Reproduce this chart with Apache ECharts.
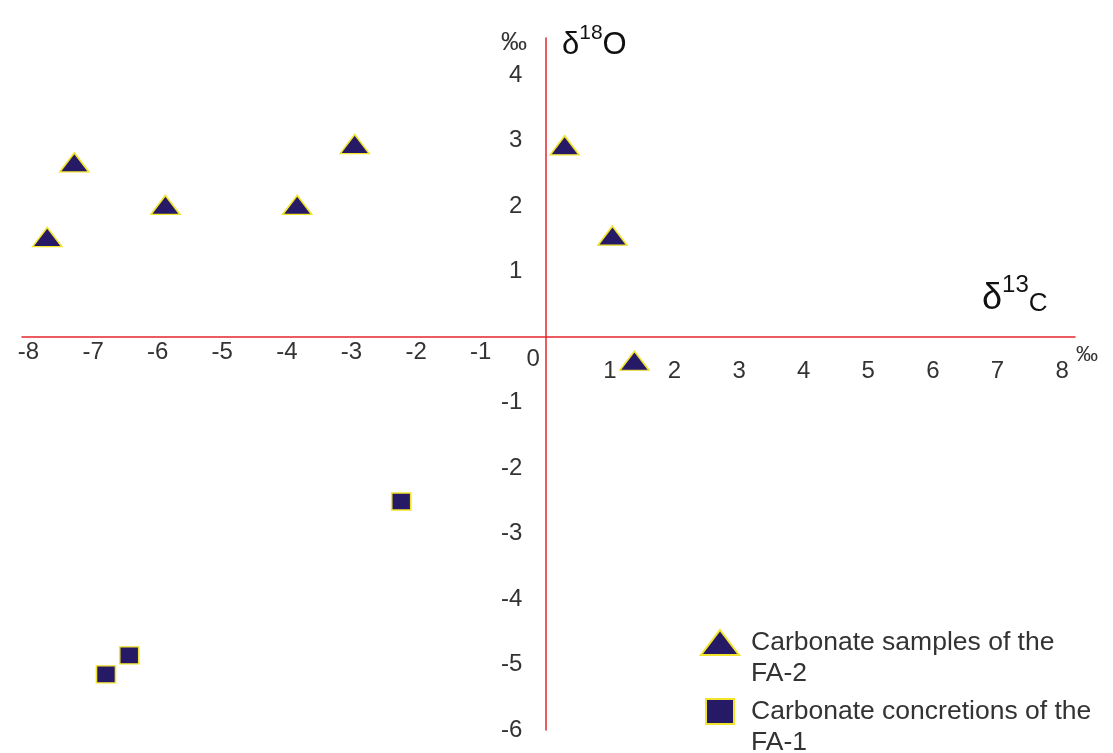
<!DOCTYPE html>
<html>
<head>
<meta charset="utf-8">
<script src="https://cdn.jsdelivr.net/npm/echarts@6/dist/echarts.min.js"></script>
<style>
  html, body { margin: 0; padding: 0; background: #fff; }
  #chart { width: 1113px; height: 753px; }
</style>
</head>
<body>
<div id="chart"></div>
<script>
// d13C / d18O values (permil)
const fa2Name = 'Carbonate samples of the FA-2'
const fa2C = [-7.71, -7.29, -5.88, -3.84, -2.95, 0.30, 1.04, 1.38]
const fa2O = [1.53, 2.67, 2.02, 2.02, 2.95, 2.93, 1.55, -0.36]

const fa1Name = 'Carbonate concretions of the FA-1'
const fa1C = [-2.23, -6.44, -6.80]
const fa1O = [-2.51, -4.86, -5.15]

const xTicks = [-8, -7, -6, -5, -4, -3, -2, -1, 0, 1, 2, 3, 4, 5, 6, 7, 8]
const yTicks = [-6, -5, -4, -3, -2, -1, 1, 2, 3, 4]

const xMin = -8.1
const xMax = 8.2
const yMin = -6
const yMax = 4.57

const red = '#e5262b'
const navy = '#261a66'
const yellow = '#f2e32b'
const ink = '#333'
const font = 'Liberation Sans, Arial, sans-serif'

const W = 1113
const H = 753
const gridBox = { left: 22, right: 38, top: 38, bottom: 23 }
const gw = W - gridBox.left - gridBox.right
const gh = H - gridBox.top - gridBox.bottom

// axes cross at the origin: move each axis in from the grid edge
const xAxisOffset = -(gh * (0 - yMin)) / (yMax - yMin)
const yAxisOffset = -(gw * (0 - xMin)) / (xMax - xMin)

const pairs = (xs, ys) => xs.map((x, i) => [x, ys[i]])

const legendText = {
  color: ink,
  fontFamily: font,
  fontSize: 26.5,
  lineHeight: 31,
  padding: [0, 0, 0, 7],
}

const chart = echarts.init(document.getElementById('chart'))

chart.setOption({
  backgroundColor: '#fff',
  animation: false,
  grid: { ...gridBox, containLabel: false, outerBoundsMode: 'none' },
  xAxis: {
    type: 'value',
    min: xMin,
    max: xMax,
    position: 'bottom',
    offset: xAxisOffset,
    splitLine: { show: false },
    axisTick: { show: false },
    axisLine: { onZero: false, lineStyle: { color: red, width: 1.5 } },
    axisLabel: {
      customValues: xTicks,
      margin: 3,
      color: ink,
      fontFamily: font,
      fontSize: 24,
      formatter: (v) => {
        if (v === 0) return '{z|0}'
        return v > 0 ? '{p|' + v + '}' : '{n|' + v + '}'
      },
      rich: {
        n: { fontSize: 24, color: ink, fontFamily: font },
        p: { fontSize: 24, color: ink, fontFamily: font, padding: [19, 0, 0, 0] },
        z: { fontSize: 24, color: ink, fontFamily: font, padding: [7, 24, 0, 0] },
      },
    },
  },
  yAxis: {
    type: 'value',
    min: yMin,
    max: yMax,
    position: 'left',
    offset: yAxisOffset,
    splitLine: { show: false },
    axisTick: { show: false },
    axisLine: { onZero: false, lineStyle: { color: red, width: 1.5 } },
    axisLabel: {
      customValues: yTicks,
      margin: 23,
      color: ink,
      fontFamily: font,
      fontSize: 24,
    },
  },
  legend: [
    {
      orient: 'vertical',
      left: 700,
      top: 596,
      padding: 0,
      itemWidth: 38,
      itemHeight: 25,
      selectedMode: false,
      formatter: (name) => '\n' + name.replace(' FA', '\nFA'),
      textStyle: legendText,
      data: [{ name: fa2Name, icon: 'triangle' }],
    },
    {
      orient: 'vertical',
      left: 705,
      top: 665,
      padding: 0,
      itemWidth: 38,
      itemHeight: 25,
      selectedMode: false,
      formatter: (name) => '\n' + name.replace(' FA', '\nFA'),
      textStyle: legendText,
      data: [{ name: fa1Name, icon: 'path://M0,0 L28,0 L28,25 L0,25 Z' }],
    },
  ],
  graphic: [
    {
      type: 'text',
      left: 501,
      top: 30,
      style: { text: '‰', fontSize: 26, fill: ink, fontFamily: font },
    },
    {
      type: 'text',
      left: 562,
      top: 23,
      style: {
        text: '{d|δ}{s|18}{d|O}',
        rich: {
          d: { fontSize: 31, fill: '#111', fontFamily: font, verticalAlign: 'bottom', lineHeight: 38 },
          s: { fontSize: 21, fill: '#111', fontFamily: font, verticalAlign: 'top', lineHeight: 38 },
        },
      },
    },
    {
      type: 'text',
      left: 982,
      top: 273,
      style: {
        text: '{d|δ}{s|13}{c|C}',
        rich: {
          d: { fontSize: 36, fill: '#111', fontFamily: font, verticalAlign: 'bottom', lineHeight: 44 },
          s: { fontSize: 24, fill: '#111', fontFamily: font, verticalAlign: 'top', lineHeight: 44 },
          c: { fontSize: 26, fill: '#111', fontFamily: font, verticalAlign: 'bottom', lineHeight: 44 },
        },
      },
    },
    {
      type: 'text',
      left: 1076,
      top: 344,
      style: { text: '‰', fontSize: 22, fill: ink, fontFamily: font },
    },
  ],
  series: [
    {
      name: fa2Name,
      type: 'scatter',
      symbol: 'triangle',
      symbolSize: [29, 19],
      data: pairs(fa2C, fa2O),
      itemStyle: { color: navy, borderColor: yellow, borderWidth: 1.5, opacity: 1 },
      emphasis: { disabled: true },
    },
    {
      name: fa1Name,
      type: 'scatter',
      symbol: 'rect',
      symbolSize: [19, 17],
      data: pairs(fa1C, fa1O),
      itemStyle: { color: navy, borderColor: yellow, borderWidth: 1.5, opacity: 1 },
      emphasis: { disabled: true },
    },
  ],
})
</script>
</body>
</html>
